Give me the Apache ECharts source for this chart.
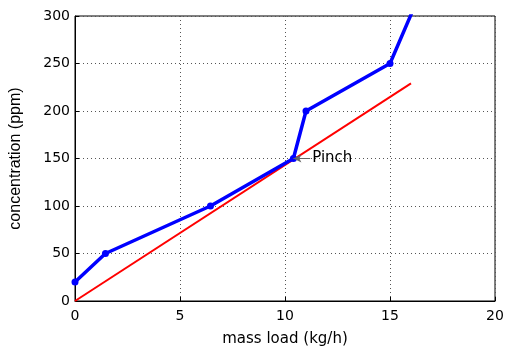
<!DOCTYPE html>
<html>
<head>
<meta charset="utf-8">
<script src="https://cdn.jsdelivr.net/npm/echarts@6/dist/echarts.min.js"></script>
<style>
  html, body { margin: 0; padding: 0; background: #fff; }
  #chart { width: 512px; height: 352px; }
</style>
</head>
<body>
<div id="chart"></div>
<script>
// composite curve (blue) and supply line (red)
const compositeX = [0, 1.45, 6.45, 10.4, 11.0, 15.0, 16.4]
const compositeY = [20, 50, 100, 150, 200, 250, 322]
const supplyX = [0, 16]
const supplyY = [0, 229]
const pinch = [10.4, 150]
const pinchText = 'Pinch'

const font = 'DejaVu Sans, Arial, sans-serif'
const narrowFont = 'Liberation Sans, Arial, sans-serif'
const chart = echarts.init(document.getElementById('chart'))

const gridLine = { show: true, lineStyle: { color: '#555', type: [1, 3], width: 1 } }

const option = {
  backgroundColor: '#fff',
  animation: false,
  grid: { left: 73, right: 17, top: 16, bottom: 46, show: true, borderColor: '#000', borderWidth: 1 },
  xAxis: {
    type: 'value',
    min: 0,
    max: 20,
    interval: 5,
    name: 'mass load (kg/h)',
    nameLocation: 'center',
    nameGap: 31,
    nameTextStyle: { color: '#000', fontSize: 15, fontFamily: font },
    axisLine: { lineStyle: { color: '#000' } },
    axisTick: { inside: true, length: 4, lineStyle: { color: '#000' } },
    axisLabel: { color: '#000', fontSize: 14, fontFamily: font, margin: 8 },
    splitLine: gridLine
  },
  yAxis: {
    type: 'value',
    min: 0,
    max: 300,
    interval: 50,
    name: 'concentration (ppm)',
    nameLocation: 'center',
    nameGap: 51,
    nameTextStyle: { color: '#000', fontSize: 16, fontFamily: narrowFont },
    axisLine: { show: true, lineStyle: { color: '#000' } },
    axisTick: { show: true, inside: true, length: 4, lineStyle: { color: '#000' } },
    axisLabel: { color: '#000', fontSize: 14, fontFamily: font, margin: 5 },
    splitLine: gridLine
  },
  series: [
    {
      type: 'line',
      data: supplyX.map((x, i) => [x, supplyY[i]]),
      symbol: 'none',
      lineStyle: { color: '#f00', width: 2 },
      z: 2,
      markLine: {
        silent: true,
        symbol: ['arrow', 'none'],
        symbolSize: [6, 8],
        lineStyle: { color: '#666', type: 'solid', width: 1 },
        label: { show: true, position: 'end', formatter: pinchText, color: '#000', fontSize: 15, fontFamily: font, distance: 2 },
        data: [[{ coord: pinch }, { coord: [pinch[0] + 0.8, pinch[1]] }]]
      }
    },
    {
      type: 'line',
      data: compositeX.map((x, i) => [x, compositeY[i]]),
      symbol: 'circle',
      symbolSize: 7,
      showAllSymbol: true,
      clip: true,
      itemStyle: { color: '#00f' },
      lineStyle: { color: '#00f', width: 3.5 },
      z: 3
    }
  ]
}

chart.setOption(option)
</script>
</body>
</html>
